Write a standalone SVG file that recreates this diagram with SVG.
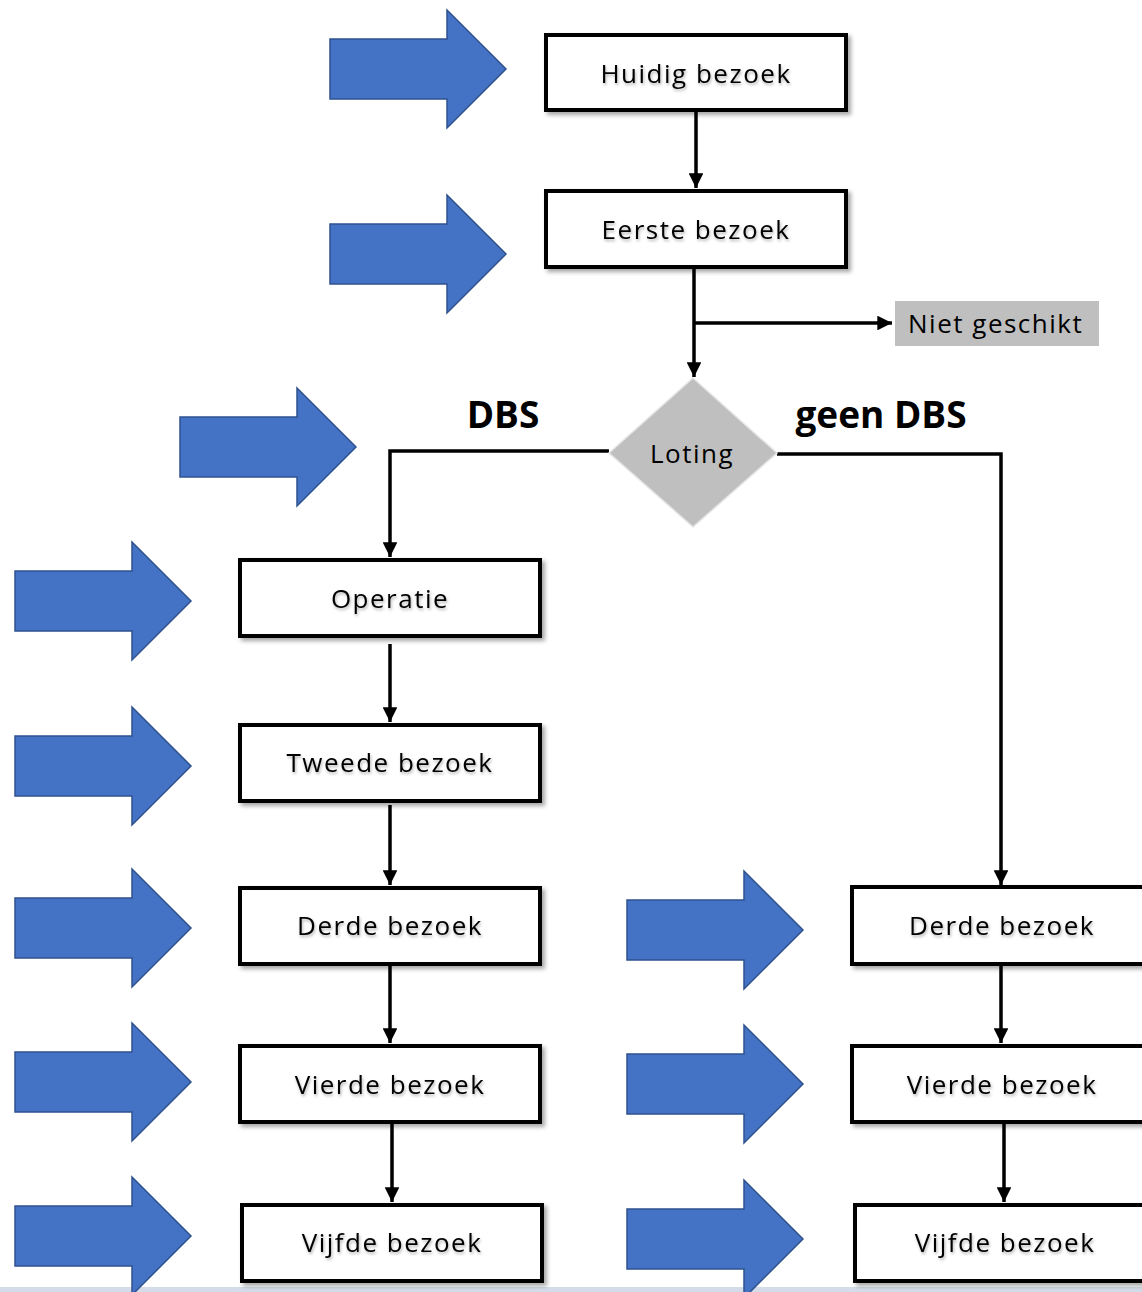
<svg xmlns="http://www.w3.org/2000/svg" width="1142" height="1292" viewBox="0 0 1142 1292">
<defs>
<style>
.arr{fill:#4472C4;stroke:#2F528F;stroke-width:1.5}
.box{fill:#fff;stroke:#000;stroke-width:4;filter:url(#sh)}
.t{font-family:"Open Sans","DejaVu Sans",sans-serif;font-size:26px;fill:#000;text-anchor:middle;letter-spacing:1.5px;filter:url(#tsh)}
.lbl{font-family:"Open Sans","DejaVu Sans",sans-serif;font-size:37px;font-weight:bold;fill:#000;text-anchor:middle}
.c{fill:none;stroke:#000;stroke-width:3.5}
</style>
<filter id="sh" x="-10%" y="-20%" width="130%" height="150%"><feDropShadow dx="3" dy="3" stdDeviation="2" flood-color="#000" flood-opacity="0.35"/></filter>
<filter id="tsh" x="-10%" y="-30%" width="130%" height="180%"><feDropShadow dx="1" dy="2" stdDeviation="1.5" flood-color="#000" flood-opacity="0.3"/></filter>
<marker id="ah" viewBox="0 0 10 10" refX="10" refY="5" markerWidth="4.2" markerHeight="4.2" orient="auto" markerUnits="strokeWidth"><path d="M0,0 L10,5 L0,10 z" fill="#000"/></marker>
<polygon id="bigarrow" points="0,29 117,29 117,0 176,59 117,118 117,89 0,89 0,29"/>
</defs>
<rect x="0" y="0" width="1142" height="1292" fill="#fff"/>
<rect x="0" y="1287" width="1142" height="5" fill="#d3dce8"/>

<g id="blue-arrows">
<use href="#bigarrow" class="arr" x="330" y="10"/>
<use href="#bigarrow" class="arr" x="330" y="195"/>
<use href="#bigarrow" class="arr" x="180" y="388"/>
<use href="#bigarrow" class="arr" x="15" y="542"/>
<use href="#bigarrow" class="arr" x="15" y="707"/>
<use href="#bigarrow" class="arr" x="15" y="869"/>
<use href="#bigarrow" class="arr" x="15" y="1023"/>
<use href="#bigarrow" class="arr" x="15" y="1177"/>
<use href="#bigarrow" class="arr" x="627" y="871"/>
<use href="#bigarrow" class="arr" x="627" y="1025"/>
<use href="#bigarrow" class="arr" x="627" y="1180"/>
</g>

<g id="connectors">
<path class="c" d="M696,111 V188" marker-end="url(#ah)"/>
<path class="c" d="M694,268 V377" marker-end="url(#ah)"/>
<path class="c" d="M694,323 H892" marker-end="url(#ah)"/>
<path class="c" d="M609,451 H390 V557" marker-end="url(#ah)"/>
<path class="c" d="M777,454 H1001 V885" marker-end="url(#ah)"/>
<path class="c" d="M390,644 V722" marker-end="url(#ah)"/>
<path class="c" d="M390,805 V885" marker-end="url(#ah)"/>
<path class="c" d="M390,965 V1043" marker-end="url(#ah)"/>
<path class="c" d="M392,1123 V1202" marker-end="url(#ah)"/>
<path class="c" d="M1001,965 V1043" marker-end="url(#ah)"/>
<path class="c" d="M1004,1123 V1202" marker-end="url(#ah)"/>
</g>

<g id="huidig"><rect class="box" x="546" y="35" width="300" height="75"/><text class="t" x="696" y="83">Huidig bezoek</text></g>
<g id="eerste"><rect class="box" x="546" y="191" width="300" height="76"/><text class="t" x="696" y="239">Eerste bezoek</text></g>
<g id="niet"><rect x="895" y="301" width="204" height="45" fill="#bfbfbf"/><text x="908" y="333" font-family="'Open Sans','DejaVu Sans',sans-serif" font-size="26" letter-spacing="1.5" fill="#000">Niet geschikt</text></g>
<g id="loting"><polygon points="693,378 777,453 693,527 609,453" fill="#bfbfbf" stroke="#e6e6e6" stroke-width="1.5"/><text x="692" y="463" font-family="'Open Sans','DejaVu Sans',sans-serif" font-size="26" letter-spacing="1.5" fill="#000" text-anchor="middle">Loting</text></g>
<g id="lbl-dbs"><text class="lbl" x="503" y="428">DBS</text></g>
<g id="lbl-geen"><text class="lbl" x="881" y="428">geen DBS</text></g>

<g id="operatie"><rect class="box" x="240" y="560" width="300" height="76"/><text class="t" x="390" y="608">Operatie</text></g>
<g id="tweede"><rect class="box" x="240" y="725" width="300" height="76"/><text class="t" x="390" y="772">Tweede bezoek</text></g>
<g id="derde-l"><rect class="box" x="240" y="888" width="300" height="76"/><text class="t" x="390" y="935">Derde bezoek</text></g>
<g id="vierde-l"><rect class="box" x="240" y="1046" width="300" height="76"/><text class="t" x="390" y="1094">Vierde bezoek</text></g>
<g id="vijfde-l"><rect class="box" x="242" y="1205" width="300" height="76"/><text class="t" x="392" y="1252">Vijfde bezoek</text></g>

<g id="derde-r"><rect class="box" x="852" y="887" width="300" height="77"/><text class="t" x="1002" y="935">Derde bezoek</text></g>
<g id="vierde-r"><rect class="box" x="852" y="1046" width="300" height="76"/><text class="t" x="1002" y="1094">Vierde bezoek</text></g>
<g id="vijfde-r"><rect class="box" x="855" y="1205" width="300" height="76"/><text class="t" x="1005" y="1252">Vijfde bezoek</text></g>
</svg>
